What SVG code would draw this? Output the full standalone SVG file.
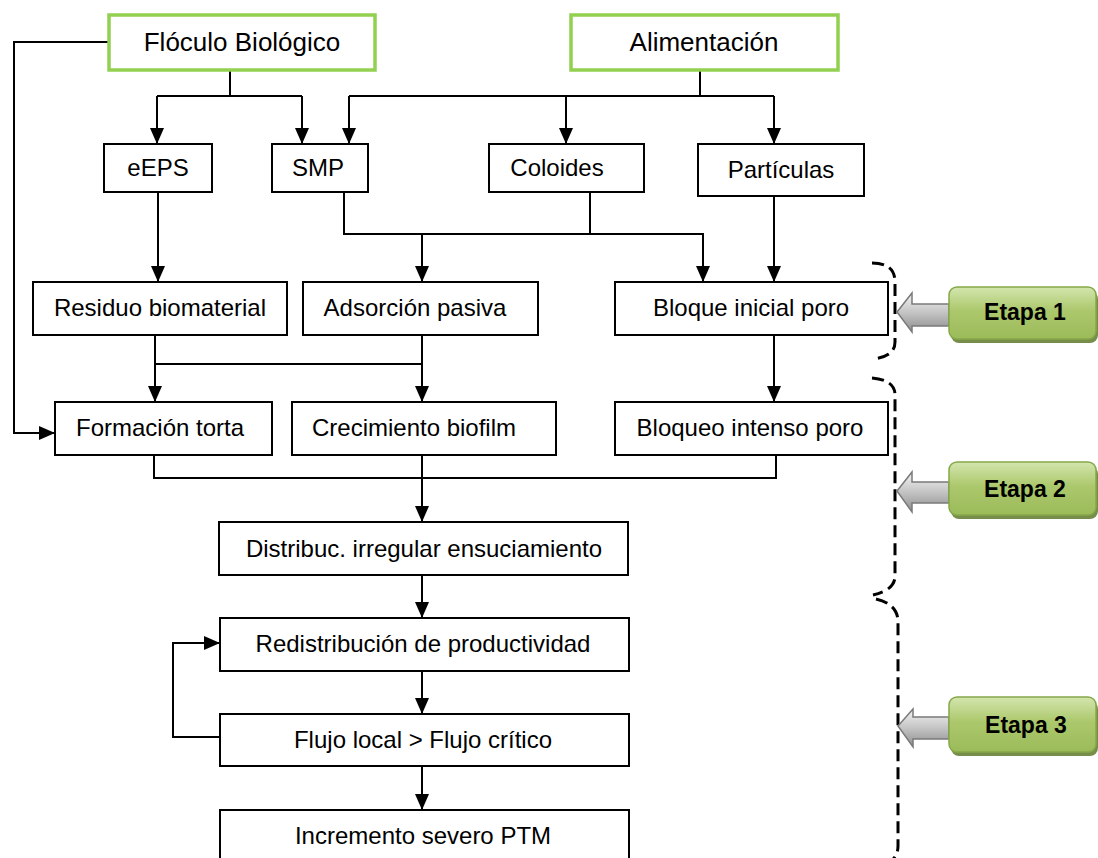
<svg xmlns="http://www.w3.org/2000/svg" width="1098" height="858" viewBox="0 0 1098 858">
  <defs>
    <style>
      .box { fill: #ffffff; stroke: #000000; stroke-width: 2; }
      .src { fill: #ffffff; stroke: #92d050; stroke-width: 3.5; }
      .lbl { font-family: "Liberation Sans", Arial, sans-serif; font-size: 24px; fill: #000000; text-anchor: middle; }
      .big { font-size: 26px; }
      .line { fill: none; stroke: #000000; stroke-width: 2; }
      .arr { marker-end: url(#head); }
      .brace { fill: none; stroke: #000000; stroke-width: 3; stroke-dasharray: 12 6; }
      .stage { fill: url(#greenFill); stroke: #86a84a; stroke-width: 1.5; }
      .stageShadow { fill: #5f7a2c; opacity: 0.85; }
      .stageTxt { font-family: "Liberation Sans", Arial, sans-serif; font-size: 23px; font-weight: bold; fill: #000000; text-anchor: middle; }
      .pointer { fill: url(#grayFill); stroke: #7a7a7a; stroke-width: 1.5; }
    </style>
    <marker id="head" viewBox="0 0 16 14" refX="16" refY="7" markerWidth="16" markerHeight="14" markerUnits="userSpaceOnUse" orient="auto">
      <path d="M0,0 L16,7 L0,14 z" fill="#000000"/>
    </marker>
    <linearGradient id="greenFill" x1="0" y1="0" x2="0" y2="1">
      <stop offset="0" stop-color="#d3e6ae"/>
      <stop offset="0.45" stop-color="#acc86c"/>
      <stop offset="1" stop-color="#9bbb59"/>
    </linearGradient>
    <linearGradient id="grayFill" x1="0" y1="0" x2="0" y2="1">
      <stop offset="0" stop-color="#f4f4f4"/>
      <stop offset="0.5" stop-color="#c4c4c4"/>
      <stop offset="1" stop-color="#8e8e8e"/>
    </linearGradient>
  </defs>

  <!-- connectors -->
  <g id="connectors">
    <!-- Flóculo Biológico feedback to Formación torta -->
    <path class="line arr" d="M109,42 H14 V433 H55"/>
    <!-- Flóculo Biológico split -->
    <path class="line" d="M230,70 V96 M157,96 H302"/>
    <path class="line arr" d="M157,96 V144"/>
    <path class="line arr" d="M302,96 V144"/>
    <!-- Alimentación split -->
    <path class="line" d="M700,70 V96 M349,96 H774"/>
    <path class="line arr" d="M349,96 V144"/>
    <path class="line arr" d="M566,96 V144"/>
    <path class="line arr" d="M774,96 V144"/>
    <!-- row 1 to row 2 -->
    <path class="line arr" d="M158,192 V282"/>
    <path class="line arr" d="M344,192 V234 H703 V282"/>
    <path class="line" d="M590,192 V234"/>
    <path class="line arr" d="M422,234 V282"/>
    <path class="line arr" d="M774,196 V282"/>
    <!-- row 2 to row 3 -->
    <path class="line arr" d="M155,335 V402"/>
    <path class="line arr" d="M422,335 V402"/>
    <path class="line" d="M155,364 H422"/>
    <path class="line arr" d="M774,335 V402"/>
    <!-- row 3 merge -->
    <path class="line" d="M154,455 V478 H776 V455"/>
    <path class="line arr" d="M422,455 V522"/>
    <!-- lower chain -->
    <path class="line arr" d="M422,575 V618"/>
    <path class="line arr" d="M422,671 V714"/>
    <path class="line arr" d="M422,766 V810"/>
    <path class="line arr" d="M220,737 H173 V643 H220"/>
  </g>

  <!-- sources -->
  <g id="floculo">
    <rect class="src" x="109" y="15" width="266" height="55"/>
    <text class="lbl big" x="242" y="51">Flóculo Biológico</text>
  </g>
  <g id="alimentacion">
    <rect class="src" x="571" y="15" width="267" height="55"/>
    <text class="lbl big" x="704" y="51">Alimentación</text>
  </g>

  <!-- row 1 -->
  <g id="eeps">
    <rect class="box" x="104" y="144" width="108" height="48"/>
    <text class="lbl" x="158" y="176">eEPS</text>
  </g>
  <g id="smp">
    <rect class="box" x="272" y="144" width="96" height="48"/>
    <text class="lbl" x="318" y="176">SMP</text>
  </g>
  <g id="coloides">
    <rect class="box" x="489" y="144" width="155" height="48"/>
    <text class="lbl" x="557" y="176">Coloides</text>
  </g>
  <g id="particulas">
    <rect class="box" x="698" y="144" width="166" height="52"/>
    <text class="lbl" x="781" y="178">Partículas</text>
  </g>

  <!-- row 2 -->
  <g id="residuo">
    <rect class="box" x="33" y="282" width="254" height="53"/>
    <text class="lbl" x="160" y="316">Residuo biomaterial</text>
  </g>
  <g id="adsorcion">
    <rect class="box" x="303" y="282" width="235" height="53"/>
    <text class="lbl" x="415" y="316">Adsorción pasiva</text>
  </g>
  <g id="bloque-inicial">
    <rect class="box" x="615" y="282" width="273" height="53"/>
    <text class="lbl" x="751" y="316">Bloque inicial poro</text>
  </g>

  <!-- row 3 -->
  <g id="formacion">
    <rect class="box" x="55" y="402" width="217" height="53"/>
    <text class="lbl" x="160" y="436">Formación torta</text>
  </g>
  <g id="crecimiento">
    <rect class="box" x="292" y="402" width="264" height="53"/>
    <text class="lbl" x="414" y="436">Crecimiento biofilm</text>
  </g>
  <g id="bloqueo-intenso">
    <rect class="box" x="615" y="402" width="273" height="53"/>
    <text class="lbl" x="750" y="436">Bloqueo intenso poro</text>
  </g>

  <!-- lower chain -->
  <g id="distribucion">
    <rect class="box" x="219" y="522" width="409" height="53"/>
    <text class="lbl" x="424" y="557">Distribuc. irregular ensuciamiento</text>
  </g>
  <g id="redistribucion">
    <rect class="box" x="220" y="618" width="409" height="53"/>
    <text class="lbl" x="423" y="652">Redistribución de productividad</text>
  </g>
  <g id="flujo">
    <rect class="box" x="220" y="714" width="409" height="52"/>
    <text class="lbl" x="423" y="748">Flujo local &gt; Flujo crítico</text>
  </g>
  <g id="incremento">
    <rect class="box" x="220" y="810" width="409" height="60"/>
    <text class="lbl" x="423" y="844">Incremento severo PTM</text>
  </g>

  <!-- stage braces -->
  <g id="braces">
    <path class="brace" d="M872,263 Q895,263 895,282 V342 Q895,357 872,359"/>
    <path class="brace" d="M872,378 Q895,380 895,395 V576 Q895,590 873,595"/>
    <path class="brace" d="M876,599 Q898,604 898,622 V846 Q898,856 890,862"/>
  </g>

  <!-- stage labels -->
  <g id="etapa-1">
    <polygon class="pointer" points="897,312 912,293 912,304 949,304 949,326 912,326 912,332"/>
    <rect class="stageShadow" x="951" y="291" width="147" height="52" rx="8"/>
    <rect class="stage" x="949" y="287" width="147" height="52" rx="8"/>
    <text class="stageTxt" x="1025" y="320">Etapa 1</text>
  </g>
  <g id="etapa-2">
    <polygon class="pointer" points="897,491 912,472 912,482 949,482 949,503 912,503 912,512"/>
    <rect class="stageShadow" x="951" y="466" width="147" height="53" rx="8"/>
    <rect class="stage" x="949" y="462" width="147" height="53" rx="8"/>
    <text class="stageTxt" x="1025" y="497">Etapa 2</text>
  </g>
  <g id="etapa-3">
    <polygon class="pointer" points="898,726 913,709 913,717 949,717 949,739 913,739 913,747"/>
    <rect class="stageShadow" x="951" y="701" width="147" height="55" rx="8"/>
    <rect class="stage" x="949" y="697" width="147" height="55" rx="8"/>
    <text class="stageTxt" x="1026" y="733">Etapa 3</text>
  </g>
</svg>
